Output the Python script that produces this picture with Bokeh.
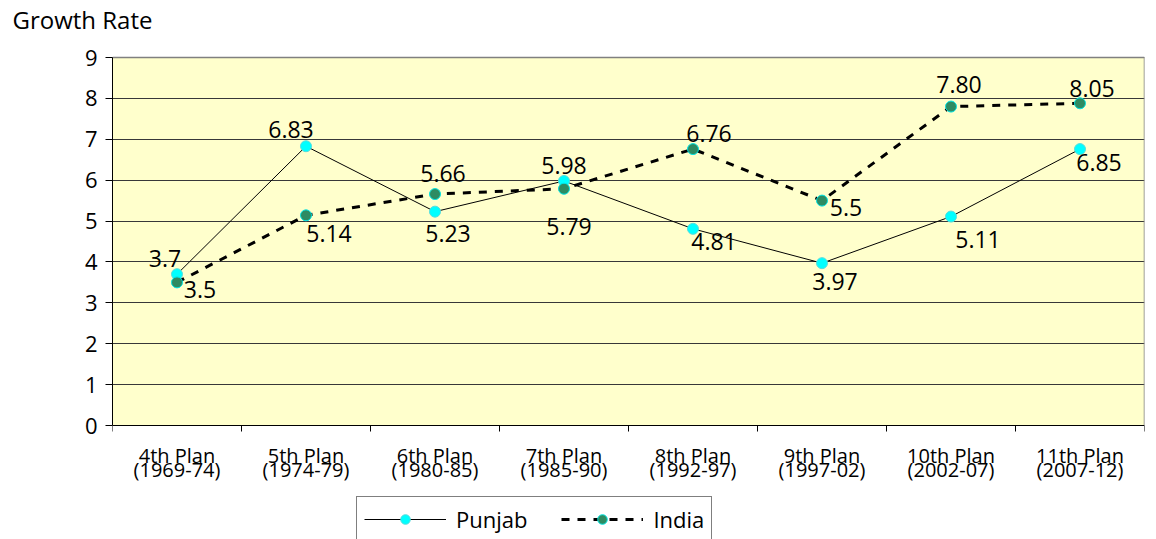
from bokeh.plotting import figure
from bokeh.models import FixedTicker, Legend, LegendItem, ColumnDataSource, Range1d
from bokeh.core.properties import value
from bokeh.embed import file_html
from bokeh.resources import INLINE

title = "Growth Rate"
plans = ["4th Plan", "5th Plan", "6th Plan", "7th Plan", "8th Plan", "9th Plan", "10th Plan", "11th Plan"]
periods = ["(1969-74)", "(1974-79)", "(1980-85)", "(1985-90)", "(1992-97)", "(1997-02)", "(2002-07)", "(2007-12)"]
y_ticks = [0, 1, 2, 3, 4, 5, 6, 7, 8, 9]
punjab = [3.7, 6.83, 5.23, 5.98, 4.81, 3.97, 5.11, 6.76]
india = [3.5, 5.14, 5.66, 5.79, 6.76, 5.5, 7.80, 7.88]
punjab_labels = ["3.7", "6.83", "5.23", "5.98", "4.81", "3.97", "5.11", "6.85"]
india_labels = ["3.5", "5.14", "5.66", "5.79", "6.76", "5.5", "7.80", "8.05"]

# label offsets in screen pixels (style, not data)
punjab_dx = [-12, -15, 13, 0, 21, 13, 27, 19]
punjab_dy = [-16, -17, 22, -15, 13, 18, 23, 13]
india_dx = [23, 23, 8, 5, 16, 24, 8, 12]
india_dy = [7, 18, -21, 38, -16, 7, -22, -15]

FONT = "Open Sans"
n = len(plans)
xs = [i + 0.5 for i in range(n)]
bounds = list(range(n + 1))
ymax = y_ticks[-1]

# layout: plot area 0..9 spans 368px; the frame extends above and below it
PX = 368 / ymax
FRAME_H = 504
y_top = ymax + 22 / PX
y_bot = y_top - FRAME_H / PX

p = figure(frame_width=1032, frame_height=FRAME_H, output_backend="svg", toolbar_location=None,
           x_range=Range1d(0, n), y_range=Range1d(y_bot, y_top), x_axis_location=None,
           min_border_left=112, min_border_right=12, min_border_top=0, min_border_bottom=0)
p.border_fill_color = "white"
p.background_fill_color = "white"
p.outline_line_color = None

p.title.text = title
p.title.text_font = FONT
p.title.text_font_size = "24px"
p.title.text_font_style = "normal"
p.title.text_color = "black"
p.title.align = "left"
p.title.offset = -100
p.title.standoff = 0

# plot area background and borders
p.quad(left=[0], right=[n], bottom=[0], top=[ymax], fill_color="#FFFFCC", line_color=None, level="image")
p.xgrid.grid_line_color = None
p.ygrid.ticker = FixedTicker(ticks=y_ticks[1:])
p.ygrid.grid_line_color = "#383838"
p.ygrid.grid_line_width = 1
p.segment(x0=[0, n], y0=[ymax, 0], x1=[n, n], y1=[ymax, ymax], line_color="#808080", line_width=1.5)

# y axis
p.yaxis.ticker = FixedTicker(ticks=y_ticks)
p.yaxis.bounds = (0, ymax)
p.yaxis.minor_tick_line_color = None
p.yaxis.major_tick_out = 7
p.yaxis.major_tick_in = 0
p.yaxis.axis_line_color = "black"
p.yaxis.major_tick_line_color = "black"
p.yaxis.major_label_text_font = FONT
p.yaxis.major_label_text_font_size = "22px"
p.yaxis.major_label_text_color = "black"
p.yaxis.major_label_standoff = 8

# x axis line, boundary ticks and two-line category labels
p.segment(x0=[0], y0=[0], x1=[n], y1=[0], line_color="black", line_width=1)
p.segment(x0=bounds, y0=[0] * len(bounds), x1=bounds, y1=[-6 / PX] * len(bounds),
          line_color="black", line_width=1)
p.text(x=xs, y=[0] * n, text=plans, y_offset=30, text_font=value(FONT), text_font_size="20px",
       text_color="black", text_align="center", text_baseline="middle")
p.text(x=xs, y=[0] * n, text=periods, y_offset=44, text_font=value(FONT), text_font_size="20px",
       text_color="black", text_align="center", text_baseline="middle")

ps = ColumnDataSource(dict(x=xs, y=punjab, t=punjab_labels, dx=punjab_dx, dy=punjab_dy))
ids = ColumnDataSource(dict(x=xs, y=india, t=india_labels, dx=india_dx, dy=india_dy))

pl = p.line("x", "y", source=ps, line_color="black", line_width=1)
pm = p.scatter("x", "y", source=ps, marker="circle", size=11, fill_color="#00FFFF",
               line_color="#55DDDD", line_width=1)
il = p.line("x", "y", source=ids, line_color="black", line_width=3, line_dash="8 8")
im = p.scatter("x", "y", source=ids, marker="circle", size=11, fill_color="#2E8B62",
               line_color="#00E5E5", line_width=1)

for src in (ps, ids):
    p.text("x", "y", text="t", source=src, x_offset="dx", y_offset="dy",
           text_font=value(FONT), text_font_size="23px", text_color="black",
           text_align="center", text_baseline="middle")

legend = Legend(items=[LegendItem(label="Punjab", renderers=[pl, pm]),
                       LegendItem(label="India", renderers=[il, im])],
                orientation="horizontal", location=(244, -3))
legend.label_text_font = FONT
legend.label_text_font_size = "22px"
legend.label_text_color = "black"
legend.glyph_width = 82
legend.glyph_height = 24
legend.label_standoff = 10
legend.spacing = 34
legend.padding = 7
legend.margin = 0
legend.border_line_color = "black"
legend.border_line_width = 1
legend.background_fill_color = "white"
p.add_layout(legend)

open("out.html", "w").write(file_html(p, INLINE))
